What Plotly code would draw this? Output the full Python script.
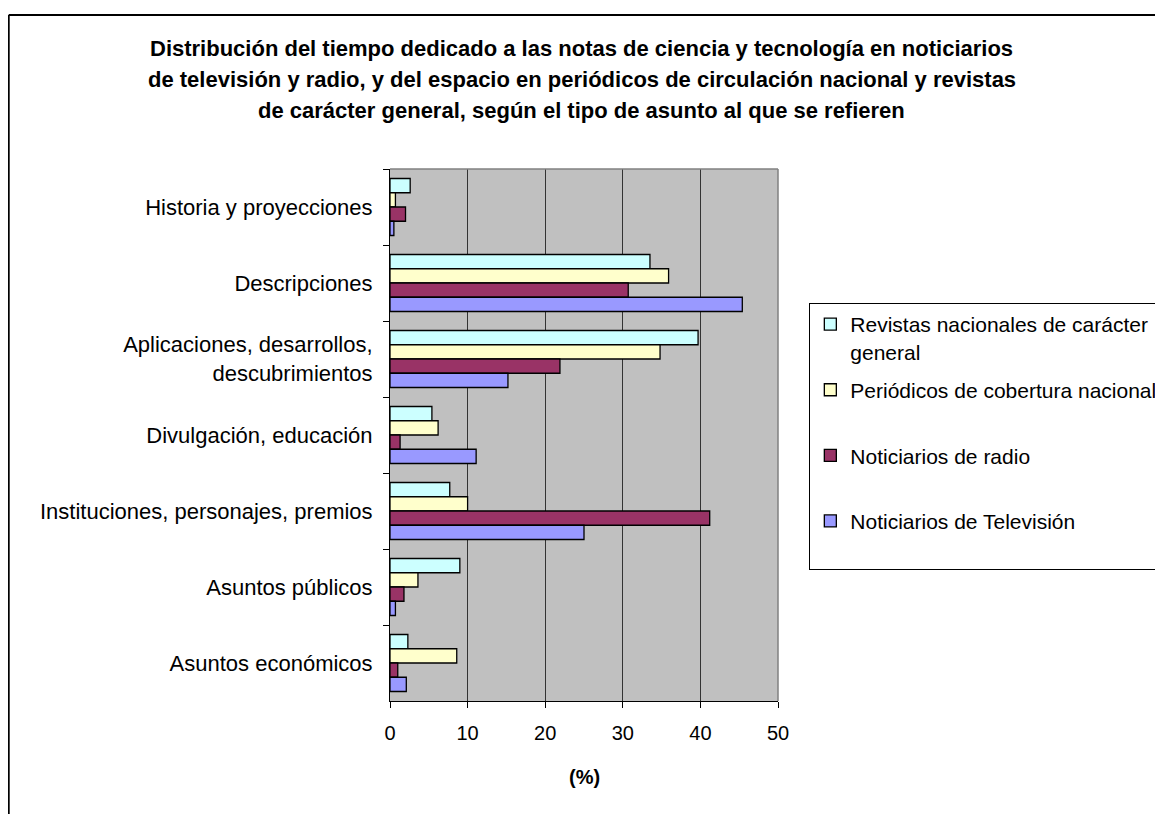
import plotly.graph_objects as go

categories = [
    "Historia y proyecciones",
    "Descripciones",
    "Aplicaciones, desarrollos,<br>descubrimientos",
    "Divulgación, educación",
    "Instituciones, personajes, premios",
    "Asuntos públicos",
    "Asuntos económicos",
]
series_names = [
    "Revistas nacionales de carácter<br>general",
    "Periódicos de cobertura nacional<br> ",
    "Noticiarios de radio<br> ",
    "Noticiarios de Televisión<br> ",
]
revistas = [2.6, 33.5, 39.7, 5.4, 7.7, 9.0, 2.3]
periodicos = [0.7, 35.9, 34.8, 6.2, 10.0, 3.6, 8.6]
radio = [2.0, 30.7, 21.9, 1.3, 41.2, 1.8, 1.0]
television = [0.5, 45.4, 15.2, 11.1, 25.0, 0.7, 2.1]
x_ticks = [0, 10, 20, 30, 40, 50]
title_lines = [
    "Distribución del tiempo dedicado a las notas de ciencia y tecnología en noticiarios",
    "de televisión y radio, y del espacio en periódicos de circulación nacional y revistas",
    "de carácter general, según el tipo de asunto al que se refieren",
]
x_title = "(%)"

colors = ["#CCFFFF", "#FFFFCC", "#993366", "#9999FF"]
FONT = "Liberation Sans, Arial, sans-serif"

# page is rendered with an 8px body margin
OFF = 8
W, H = 1163 - OFF, 814 - OFF
PL, PR, PT, PB = 390 - OFF, 777.7 - OFF, 169 - OFF, 701 - OFF


def px2x(px):
    return (px - OFF - PL) / (PR - PL)


def py2y(py):
    return (PB - (py - OFF)) / (PB - PT)


fig = go.Figure()
for i, (name, vals, col) in enumerate(zip(series_names, [revistas, periodicos, radio, television], colors)):
    fig.add_trace(go.Bar(
        y=categories, x=vals, name=name, orientation="h", legendgroup=f"g{i}",
        marker=dict(color=col, line=dict(color="black", width=1.3)),
    ))

annotations = []
for i, line in enumerate(title_lines):
    annotations.append(dict(
        text="<b>" + line + "</b>", xref="paper", yref="paper",
        x=px2x(581.5), y=py2y(49 + i * 31), xanchor="center", yanchor="middle",
        showarrow=False, font=dict(family=FONT, size=22, color="black"),
    ))
annotations.append(dict(
    text="<b>" + x_title + "</b>", xref="paper", yref="paper",
    x=0.5, y=py2y(777), xanchor="center", yanchor="middle",
    showarrow=False, font=dict(family=FONT, size=20, color="black"),
))

frame_x = px2x(OFF + 1)
shapes = [
    dict(type="line", xref="paper", yref="paper", x0=0, x1=1, y0=1, y1=1,
         line=dict(color="#808080", width=1.5), layer="above"),
    dict(type="line", xref="paper", yref="paper", x0=1, x1=1, y0=0, y1=1,
         line=dict(color="#808080", width=1.5), layer="above"),
    dict(type="line", xref="paper", yref="paper", x0=frame_x, x1=px2x(1200),
         y0=py2y(15), y1=py2y(15), line=dict(color="black", width=2)),
    dict(type="line", xref="paper", yref="paper", x0=frame_x, x1=frame_x,
         y0=py2y(15), y1=py2y(850), line=dict(color="black", width=2)),
]

fig.update_layout(
    width=W, height=H,
    margin=dict(l=PL, r=W - PR, t=PT, b=H - PB, pad=0, autoexpand=False),
    paper_bgcolor="white", plot_bgcolor="#C0C0C0",
    barmode="group", bargap=0.25, bargroupgap=0,
    font=dict(family=FONT, size=21, color="black"),
    showlegend=True,
    legend=dict(
        x=px2x(809), y=py2y(303), xanchor="left", yanchor="top",
        bordercolor="black", borderwidth=1, bgcolor="white",
        font=dict(family=FONT, size=21, color="black"),
        valign="top", tracegroupgap=8, traceorder="grouped",
    ),
    annotations=annotations,
    shapes=shapes,
    xaxis=dict(
        range=[0, 50], tickvals=x_ticks, ticks="outside", ticklen=6,
        tickcolor="black", showline=True, linecolor="black", linewidth=1,
        showgrid=True, gridcolor="#333333", gridwidth=1, zeroline=False,
        tickfont=dict(family=FONT, size=20), ticklabelstandoff=8,
    ),
    yaxis=dict(
        type="category", autorange="reversed", tickson="boundaries",
        ticks="outside", ticklen=6, tickcolor="black", showline=True,
        linecolor="black", linewidth=1, showgrid=False,
        tickfont=dict(family=FONT, size=22), ticklabelstandoff=12,
    ),
)

fig.write_html("out.html")
